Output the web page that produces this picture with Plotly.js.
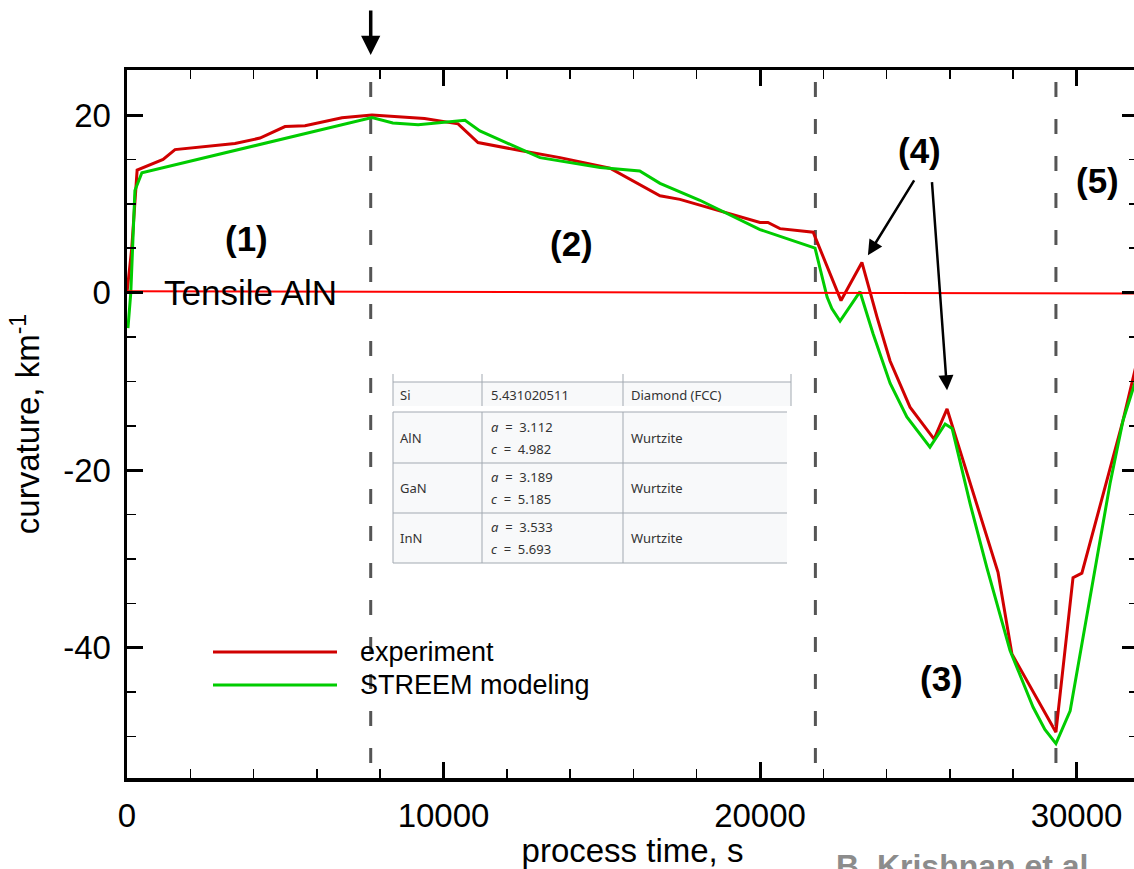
<!DOCTYPE html>
<html>
<head>
<meta charset="utf-8">
<script src="https://cdn.plot.ly/plotly-3.0.1.min.js"></script>
<style>
html,body{margin:0;padding:0;overflow:hidden;background:#fff;}
#chart{width:1150px;height:869px;}
</style>
</head>
<body>
<div id="chart"></div>
<script>
// ---------------- data ----------------
const expTime = [0, 150, 320, 1140, 1517, 3412, 4202, 4992, 5624, 6793, 7740, 9400, 10460, 11090, 12420, 13680, 15260, 15890, 16840, 17470, 18740, 20000, 20250, 20630, 21680, 22560, 23220, 23700, 24110, 24740, 25500, 25910, 26320, 27520, 27960, 29350, 29890, 30170, 31470, 31950];
const expCurv = [0, 5, 13.8, 15.0, 16.1, 16.8, 17.4, 18.7, 18.8, 19.7, 20.0, 19.6, 19.0, 16.9, 16.0, 15.2, 14.0, 12.8, 10.9, 10.5, 9.2, 7.9, 7.9, 7.2, 6.8, -0.9, 3.4, -2.8, -7.7, -12.9, -16.5, -13.1, -17.8, -31.5, -40.7, -49.5, -32.1, -31.6, -14.4, -7.2];

const modTime = [30, 120, 250, 470, 7740, 8400, 9200, 10680, 11150, 13050, 14950, 16200, 16840, 18100, 20000, 21740, 22120, 22270, 22530, 23160, 23570, 24110, 24640, 25370, 25850, 26070, 26640, 27170, 27900, 28630, 29000, 29350, 29800, 30430, 31060, 31470, 31950];
const modCurv = [-4, 0, 11.5, 13.5, 19.7, 19.1, 18.9, 19.4, 18.2, 15.2, 14.1, 13.7, 12.3, 10.4, 7.1, 5.0, -0.5, -1.8, -3.2, 0.1, -4.6, -10.2, -14.0, -17.4, -14.8, -15.3, -23.8, -31.0, -40.3, -46.7, -49.2, -50.8, -47.1, -34.3, -21.5, -14.4, -9.0];

const refTime = [0, 32000];
const refCurv = [0.15, -0.1];

const phaseBoundaries = [7700, 21750, 29350];
const phaseLabels = ['(1)', '(2)', '(3)', '(4)', '(5)'];
const phaseLabelTime = [3760, 14030, 25720, 25055, 30650];
const phaseLabelCurv = [6.1, 5.5, -43.5, 16.0, 12.6];

const seriesNames = ['experiment', 'STREEM modeling'];
const seriesColors = ['#d00000', '#00cc00'];

const xTickVals = [0, 10000, 20000, 30000];
const xTickText = ['0', '10000', '20000', '30000'];
const yTickVals = [-40, -20, 0, 20];
const yTickText = ['-40', '-20', '0', '20'];

// inset table (lattice constants)
const tblMaterial = ['Si', 'AlN', 'GaN', 'InN'];
const tblA = ['5.431020511', '3.112', '3.189', '3.533'];
const tblC = ['', '4.982', '5.185', '5.693'];
const tblStructure = ['Diamond (FCC)', 'Wurtzite', 'Wurtzite', 'Wurtzite'];

// ---------------- layout helpers ----------------
const W = 1150, H = 869;
const M = {l: 127, r: 12, t: 70, b: 91};
const PW = W - M.l - M.r, PH = H - M.t - M.b;
const px = x => (x - M.l) / PW;       // pixel -> paper x
const py = y => (M.t + PH - y) / PH;  // pixel -> paper y
const FONT = 'Liberation Sans, Arial, sans-serif';

const traces = [
  {x: expTime, y: expCurv, name: seriesNames[0], mode: 'lines', line: {color: seriesColors[0], width: 3}, showlegend: false, hoverinfo: 'skip'},
  {x: modTime, y: modCurv, name: seriesNames[1], mode: 'lines', line: {color: seriesColors[1], width: 3}, showlegend: false, hoverinfo: 'skip'},
  {x: refTime, y: refCurv, name: 'Tensile AlN', mode: 'lines', line: {color: '#ff0000', width: 2}, showlegend: false, hoverinfo: 'skip'}
];

const shapes = [];
const annotations = [];

// phase boundaries (dashed)
phaseBoundaries.forEach(t => {
  shapes.push({type: 'line', xref: 'x', yref: 'paper', x0: t, x1: t, y0: py(763), y1: py(80),
    line: {color: '#555555', width: 3, dash: '15px,22px'}, layer: 'below'});
});

// phase labels
phaseLabels.forEach((s, i) => {
  annotations.push({x: phaseLabelTime[i], y: phaseLabelCurv[i], xref: 'x', yref: 'y', text: s, showarrow: false,
    font: {family: FONT, size: 35, color: '#000', weight: 'bold'}});
});
annotations.push({x: 3900, y: 0, xref: 'x', yref: 'y', text: 'Tensile AlN', showarrow: false,
  font: {family: FONT, size: 35, color: '#000'}});

// arrows for (4)
annotations.push({x: 23410, y: 4.2, ax: 24900, ay: 12.8, xref: 'x', yref: 'y', axref: 'x', ayref: 'y', text: '',
  showarrow: true, arrowhead: 2, arrowsize: 1.2, arrowwidth: 2.5, arrowcolor: '#000'});
annotations.push({x: 25910, y: -11.0, ax: 25430, ay: 12.6, xref: 'x', yref: 'y', axref: 'x', ayref: 'y', text: '',
  showarrow: true, arrowhead: 2, arrowsize: 1.2, arrowwidth: 2.5, arrowcolor: '#000'});
// arrow above plot at first boundary
annotations.push({x: phaseBoundaries[0], y: py(55), xref: 'x', yref: 'paper', ax: 0, ay: -46, text: '',
  showarrow: true, arrowhead: 2, arrowsize: 1.1, arrowwidth: 3.5, arrowcolor: '#000'});

// manual legend
seriesNames.forEach((n, i) => {
  const yy = 652 + i * 33;
  shapes.push({type: 'line', xref: 'paper', yref: 'paper', x0: px(213), x1: px(337), y0: py(yy), y1: py(yy),
    line: {color: seriesColors[i], width: 3}});
  annotations.push({x: px(358), y: py(yy), xref: 'paper', yref: 'paper', xanchor: 'left', yanchor: 'middle',
    text: n, showarrow: false, font: {family: FONT, size: 27, color: '#000'}});
});

// credit text (cut off at the bottom edge as in the source)
annotations.push({x: px(962), y: py(846), xref: 'paper', yref: 'paper', xanchor: 'center', yanchor: 'top',
  text: 'B. Krishnan et al', showarrow: false, font: {family: FONT, size: 32, color: '#8c8c8c', weight: 'bold'}});

// inset table
const tblCols = [393, 482, 623, 791];
const tblFill = '#f8f9fa', tblLine = '#a2a9b1';
shapes.push({type: 'rect', xref: 'paper', yref: 'paper', x0: px(393), x1: px(791), y0: py(406), y1: py(382),
  fillcolor: tblFill, line: {width: 0}});
shapes.push({type: 'line', xref: 'paper', yref: 'paper', x0: px(393), x1: px(791), y0: py(382), y1: py(382), line: {color: tblLine, width: 1}});
tblCols.forEach(c => shapes.push({type: 'line', xref: 'paper', yref: 'paper', x0: px(c), x1: px(c), y0: py(406), y1: py(374), line: {color: tblLine, width: 1}}));
shapes.push({type: 'rect', xref: 'paper', yref: 'paper', x0: px(393), x1: px(787), y0: py(563), y1: py(412),
  fillcolor: tblFill, line: {width: 0}});
[412, 463, 513, 563].forEach(r => shapes.push({type: 'line', xref: 'paper', yref: 'paper', x0: px(393), x1: px(787), y0: py(r), y1: py(r), line: {color: tblLine, width: 1}}));
tblCols.slice(0, 3).forEach(c => shapes.push({type: 'line', xref: 'paper', yref: 'paper', x0: px(c), x1: px(c), y0: py(563), y1: py(412), line: {color: tblLine, width: 1}}));

const rowCenters = [395, 438, 488, 538];
const tfont = {family: 'Noto Sans, DejaVu Sans, sans-serif', size: 13, color: '#333'};
tblMaterial.forEach((m, i) => {
  const yc = rowCenters[i];
  annotations.push({x: px(398), y: py(yc), xref: 'paper', yref: 'paper', xanchor: 'left', yanchor: 'middle', text: m, showarrow: false, font: tfont});
  annotations.push({x: px(629), y: py(yc), xref: 'paper', yref: 'paper', xanchor: 'left', yanchor: 'middle', text: tblStructure[i], showarrow: false, font: tfont});
  if (tblC[i] === '') {
    annotations.push({x: px(489), y: py(yc), xref: 'paper', yref: 'paper', xanchor: 'left', yanchor: 'middle', text: tblA[i], showarrow: false, font: tfont});
  } else {
    annotations.push({x: px(489), y: py(yc - 11), xref: 'paper', yref: 'paper', xanchor: 'left', yanchor: 'middle', text: '<i>a</i>  =  ' + tblA[i], showarrow: false, font: tfont});
    annotations.push({x: px(489), y: py(yc + 11), xref: 'paper', yref: 'paper', xanchor: 'left', yanchor: 'middle', text: '<i>c</i>  =  ' + tblC[i], showarrow: false, font: tfont});
  }
});

const axisCommon = {
  showgrid: false, zeroline: false, showline: true, linecolor: '#000', linewidth: 3.5,
  mirror: 'allticks', ticks: 'inside', ticklen: 16, tickwidth: 3, tickcolor: '#000',
  tickfont: {family: FONT, size: 33, color: '#000'}, fixedrange: true
};

const yTop = 20 + (115 - M.t) / 8.88;
const layout = {
  width: W, height: H, margin: M,
  paper_bgcolor: '#fff', plot_bgcolor: '#fff',
  showlegend: false,
  xaxis: Object.assign({}, axisCommon, {
    range: [0, PW / 0.03165], tickvals: xTickVals, ticktext: xTickText,
    minor: {dtick: 2000, ticks: 'inside', ticklen: 9, tickwidth: 1.5, tickcolor: '#000', showgrid: false},
    ticklabelstandoff: 6,
    title: {text: 'process time, s', font: {family: FONT, size: 33, color: '#000'}, standoff: 16}
  }),
  yaxis: Object.assign({}, axisCommon, {
    range: [yTop - PH / 8.88, yTop],
    tickvals: yTickVals, ticktext: yTickText,
    minor: {dtick: 5, ticks: 'inside', ticklen: 9, tickwidth: 1.5, tickcolor: '#000', showgrid: false},
    ticklabelstandoff: 6,
    title: {text: 'curvature, km<sup>-1</sup>', font: {family: FONT, size: 33, color: '#000'}, standoff: 14}
  }),
  shapes: shapes,
  annotations: annotations
};

Plotly.newPlot('chart', traces, layout, {staticPlot: true, displayModeBar: false});
</script>
</body>
</html>
